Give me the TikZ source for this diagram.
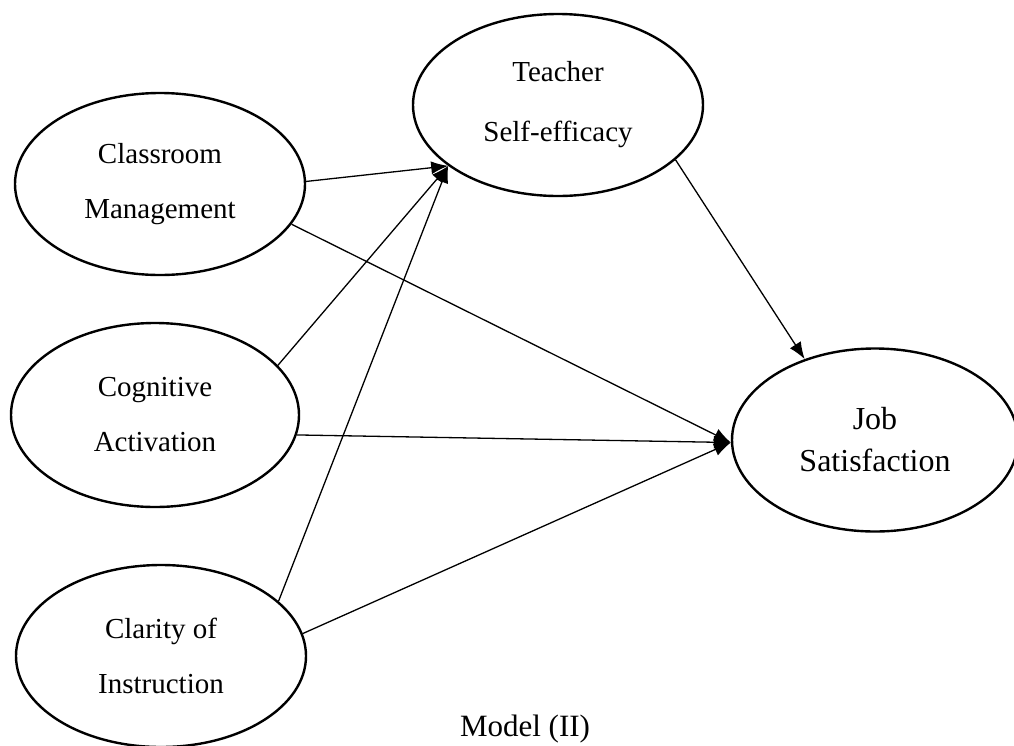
\documentclass[tikz,border=0pt]{standalone}
\usepackage{fontspec}
\setmainfont{Liberation Serif}
\usetikzlibrary{shapes.geometric,arrows.meta}

\begin{document}
\begin{tikzpicture}[x=1pt,y=-1pt,
  construct/.style={ellipse,draw,line width=2.4pt,inner sep=0pt,
    minimum width=290pt,minimum height=182pt,align=center,
    font=\fontsize{29}{55}\selectfont},
  path/.style={line width=1.3pt,-{Latex[length=17pt,width=13pt]}},
  caption/.style={font=\fontsize{31}{36}\selectfont}]
  \useasboundingbox (0,0) rectangle (1014,745);

  % latent constructs
  \node[construct] (cm) at (160,184) {Classroom\\Management};
  \node[construct,minimum width=288pt,minimum height=184pt] (ca) at (155,415) {Cognitive\\Activation};
  \node[construct] (cl) at (161,656) {Clarity of\\Instruction};
  \node[construct,font=\fontsize{29}{60}\selectfont] (te) at (558,105) {Teacher\\Self-efficacy};
  \node[construct,minimum width=286pt,minimum height=183pt,
        font=\fontsize{32}{42}\selectfont] (jo) at (875,440) {Job\\Satisfaction};

  % structural paths
  \draw[path] (cm.1)   -- (te.209);
  \draw[path] (ca.22)  -- (te.209);
  \draw[path] (cl.25)  -- (te.209);
  \draw[path] (cm.343) -- (jo.181);
  \draw[path] (ca.352) -- (jo.181);
  \draw[path] (cl.9)   -- (jo.181);
  \draw[path] (te.335) -- (jo.131);

  \node[caption] (cap) at (525,729) {Model (II)};
\end{tikzpicture}
\end{document}
